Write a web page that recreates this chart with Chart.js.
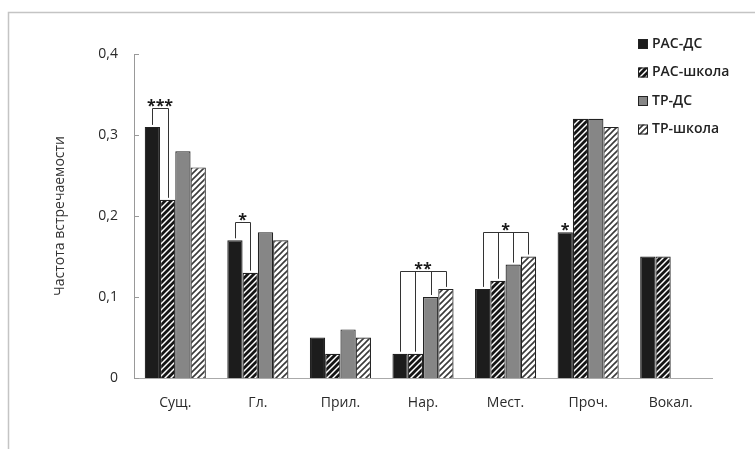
<!DOCTYPE html>
<html>
<head>
<meta charset="utf-8">
<script src="https://cdn.jsdelivr.net/npm/chart.js@4.4.1/dist/chart.umd.min.js"></script>
<style>
  body { margin: 0; background: #fff; }
  #grafico { position: absolute; left: 0; top: 0; }
</style>
</head>
<body>
<canvas id="grafico" width="755" height="449"></canvas>
<script>
const categorias = ["Сущ.", "Гл.", "Прил.", "Нар.", "Мест.", "Проч.", "Вокал."];
const rasDS     = [0.31, 0.17, 0.05, 0.03, 0.11, 0.18, 0.15];
const rasShkola = [0.22, 0.13, 0.03, 0.03, 0.12, 0.32, 0.15];
const trDS      = [0.28, 0.18, 0.06, 0.10, 0.14, 0.32, null];
const trShkola  = [0.26, 0.17, 0.05, 0.11, 0.15, 0.31, null];
const nombres   = ["РАС-ДС", "РАС-школа", "ТР-ДС", "ТР-школа"];
const ticksY    = [0, 0.1, 0.2, 0.3, 0.4];

// significance marks: category, bars joined, bracket level, stars
const skobki = [
  { kat: 0, bary: [0, 1], uroven: 0.333, zvezdy: "***" },
  { kat: 1, bary: [0, 1], uroven: 0.193, zvezdy: "*" },
  { kat: 3, bary: [0, 1, 2, 3], uroven: 0.132, zvezdy: "**" },
  { kat: 4, bary: [0, 1, 2, 3], uroven: 0.180, zvezdy: "*" },
  { kat: 5, bary: [0], uroven: null, zvezdy: "*" }
];

function rayas(tam, grosor, color) {
  const c = document.createElement('canvas');
  c.width = tam; c.height = tam;
  const g = c.getContext('2d');
  g.fillStyle = '#fff';
  g.fillRect(0, 0, tam, tam);
  g.strokeStyle = color;
  g.lineWidth = grosor;
  g.beginPath();
  g.moveTo(-1, tam + 1); g.lineTo(tam + 1, -1);
  g.moveTo(-tam / 2 - 1, tam / 2 + 1); g.lineTo(tam / 2 + 1, -tam / 2 - 1);
  g.moveTo(tam / 2 - 1, tam * 1.5 + 1); g.lineTo(tam * 1.5 + 1, tam / 2 - 1);
  g.stroke();
  return g.createPattern(c, 'repeat');
}

const rellenos = ['#1c1c1c', rayas(6, 2.8, '#151515'), '#868686', rayas(6, 1.6, '#3a3a3a')];
const serie = [rasDS, rasShkola, trDS, trShkola];

const marco = {
  id: 'marco',
  beforeDraw(chart) {
    const ctx = chart.ctx;
    ctx.save();
    ctx.strokeStyle = '#c4c4c4';
    ctx.lineWidth = 1.5;
    ctx.strokeRect(8.5, 12.5, 800, 500);
    ctx.restore();
  }
};

const extras = {
  id: 'extras',
  afterDraw(chart) {
    const ctx = chart.ctx;
    const y = chart.scales.y;
    const area = chart.chartArea;
    ctx.save();
    // inward ticks on the y axis
    ctx.strokeStyle = '#999';
    ctx.lineWidth = 1;
    ticksY.forEach(v => {
      const py = Math.round(y.getPixelForValue(v)) + 0.5;
      ctx.beginPath();
      ctx.moveTo(area.left, py);
      ctx.lineTo(area.left + 5, py);
      ctx.stroke();
    });

    // brackets and stars
    ctx.strokeStyle = '#333';
    ctx.fillStyle = '#1a1a1a';
    ctx.font = 'bold 16px "Open Sans"';
    ctx.textAlign = 'center';
    ctx.textBaseline = 'alphabetic';
    skobki.forEach(s => {
      const barras = s.bary.map(b => chart.getDatasetMeta(b).data[s.kat]);
      if (s.uroven === null) {
        const b = barras[0];
        ctx.fillText(s.zvezdy, b.x, b.y + 3);
        return;
      }
      const top = Math.round(y.getPixelForValue(s.uroven)) + 0.5;
      ctx.beginPath();
      barras.forEach(b => {
        const x = Math.round(b.x) + 0.5;
        ctx.moveTo(x, top);
        ctx.lineTo(x, b.y - 2);
      });
      ctx.moveTo(Math.round(barras[0].x) + 0.5, top);
      ctx.lineTo(Math.round(barras[barras.length - 1].x) + 0.5, top);
      ctx.stroke();
      const cx = (barras[0].x + barras[barras.length - 1].x) / 2;
      ctx.fillText(s.zvezdy, cx, top + 2);
    });

    // legend
    ctx.font = '600 14px "Open Sans"';
    ctx.textAlign = 'left';
    ctx.textBaseline = 'middle';
    nombres.forEach((n, i) => {
      const cy = 44 + i * 28.5;
      ctx.fillStyle = rellenos[i];
      ctx.fillRect(638, cy - 5, 10, 10);
      ctx.strokeStyle = '#222';
      ctx.strokeRect(638.5, cy - 4.5, 9, 9);
      ctx.fillStyle = '#222';
      ctx.fillText(n, 652, cy);
    });
    ctx.restore();
  }
};

const ctx = document.getElementById('grafico').getContext('2d');
const grafico = new Chart(ctx, {
  type: 'bar',
  data: {
    labels: categorias,
    datasets: nombres.map((n, i) => ({
      label: n,
      data: serie[i],
      backgroundColor: rellenos[i],
      borderColor: '#222',
      borderWidth: 1.2
    }))
  },
  options: {
    responsive: false,
    animation: false,
    layout: { padding: { top: 54, right: 43, left: 0, bottom: 0 } },
    datasets: { bar: { categoryPercentage: 0.74, barPercentage: 1.0 } },
    scales: {
      x: {
        grid: { display: false, drawTicks: false },
        border: { color: '#aaa' },
        ticks: { color: '#2a2a2a', font: { family: 'Open Sans', size: 14 }, padding: 17 },
        afterFit(s) { s.height = 71; }
      },
      y: {
        min: 0,
        max: 0.4,
        grid: { display: false, drawTicks: false },
        border: { color: '#999' },
        ticks: {
          stepSize: 0.1,
          padding: 16,
          color: '#2a2a2a',
          font: { family: 'Open Sans', size: 14 },
          callback: v => v === 0 ? '0' : v.toFixed(1).replace('.', ',')
        },
        title: {
          display: true,
          text: 'Частота встречаемости',
          color: '#333',
          font: { family: 'Open Sans', size: 14 },
          padding: { top: 52, bottom: 0 }
        },
        afterFit(s) { s.width = 134; }
      }
    },
    plugins: {
      legend: { display: false },
      tooltip: { enabled: false }
    }
  },
  plugins: [marco, extras]
});
</script>
</body>
</html>
